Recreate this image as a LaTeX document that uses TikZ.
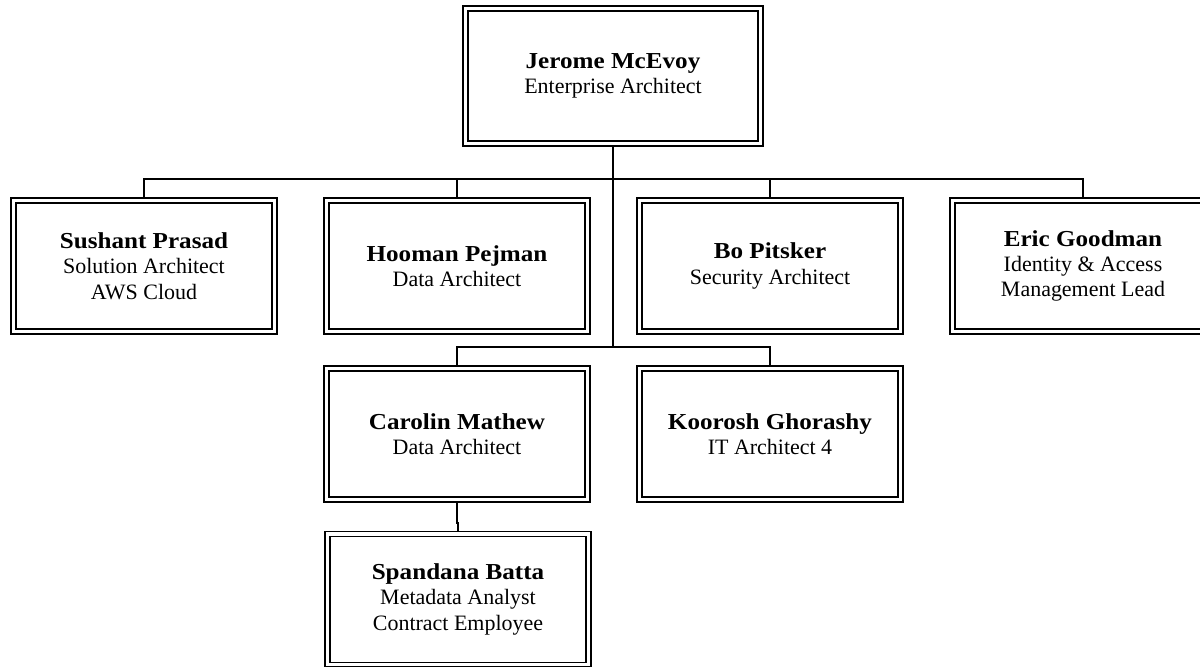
\documentclass[tikz,border=0pt]{standalone}
\usepackage{fontspec}
\setmainfont{Liberation Serif}
\newfontface\namefont{Liberation Serif Bold}[FakeStretch=1.1]
\newcommand{\pname}[1]{{\namefont\fontsize{13}{14.4}\selectfont #1}}

\tikzset{
  person/.style={draw, double, line width=0.9pt, double distance=1.8pt, outer sep=1.8pt,
    minimum width=5.22cm, minimum height=2.62cm, align=center,
    font=\fontsize{12.5}{14.4}\selectfont},
  link/.style={line width=1.1pt}
}

\begin{document}
\begin{tikzpicture}[x=0.02cm,y=-0.02cm]
\clip (0,0) rectangle (1200,666);
% top
\node[person, minimum width=5.9cm, minimum height=2.7cm] (jerome) at (613,76) {\pname{Jerome McEvoy}\\Enterprise Architect};
% first row
\node[person] (sushant) at (144,266) {\pname{Sushant Prasad}\\Solution Architect\\AWS Cloud};
\node[person] (hooman) at (457,266) {\pname{Hooman Pejman}\\Data Architect};
\node[person] (bo) at (770,266) {\pname{Bo Pitsker}\\Security Architect};
\node[person] (eric) at (1083,266) {\pname{Eric Goodman}\\Identity \& Access\\Management Lead};
% second row
\node[person] (carolin) at (457,434) {\pname{Carolin Mathew}\\Data Architect};
\node[person] (koorosh) at (770,434) {\pname{Koorosh Ghorashy}\\IT Architect 4};
\node[person] (spandana) at (458,599.4) {\pname{Spandana Batta}\\Metadata Analyst\\Contract Employee};

\coordinate (trunk) at (613,348);
\draw[link] (jerome.south) -- (trunk);
\draw[link] (sushant.north) -- ++(0,-18) -| (eric.north);
\draw[link] (hooman.north) -- ++(0,-18);
\draw[link] (bo.north) -- ++(0,-18);
\draw[link] (carolin.north) -- ++(0,-18) -| (koorosh.north);
\draw[link] (carolin.south) -- ++(0,20) -| (spandana.north);
\end{tikzpicture}
\end{document}
